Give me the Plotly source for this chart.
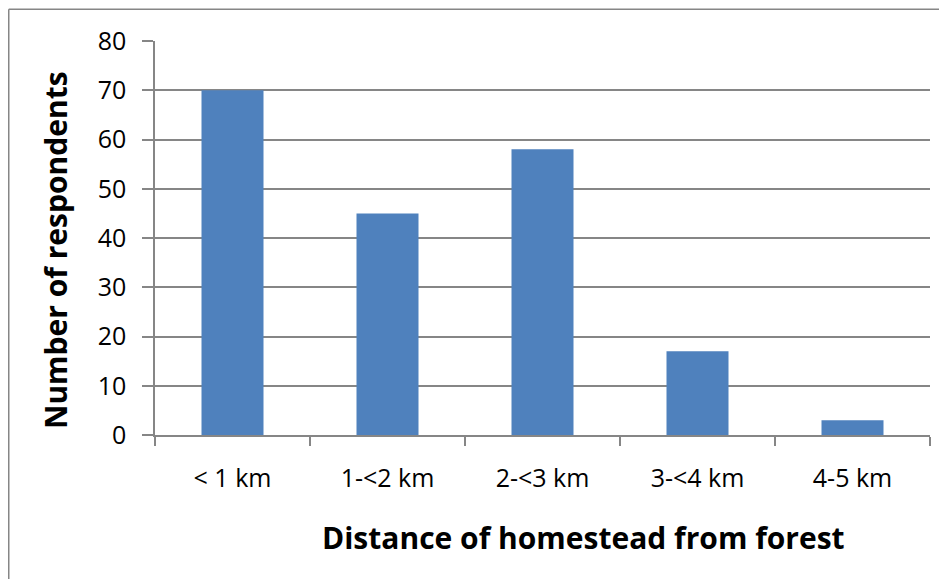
import plotly.graph_objects as go

categories = ["< 1 km", "1-<2 km", "2-<3 km", "3-<4 km", "4-5 km"]
respondents = [70, 45, 58, 17, 3]
y_ticks = [0, 10, 20, 30, 40, 50, 60, 70, 80]

x_title = "Distance of homestead from forest"
y_title = "Number of respondents"

FONT = "Open Sans"
GRAY = "#868686"

# plot area in figure pixel coordinates (page has an 8px body margin)
L, T, W, H = 147, 33, 775, 394
B = T + H


def px(x):
    return (x - L) / W


def py(y):
    return (B - y) / H


fig = go.Figure(
    go.Bar(
        x=categories,
        y=respondents,
        marker=dict(color="#4F81BD", line=dict(width=0)),
    )
)

fig.update_layout(
    width=947,
    height=579,
    margin=dict(l=L, r=947 - L - W, t=T, b=579 - B),
    paper_bgcolor="white",
    plot_bgcolor="white",
    bargap=0.6,
    showlegend=False,
    font=dict(family=FONT, color="black", size=25),
    xaxis=dict(
        type="category",
        tickson="boundaries",
        ticks="outside",
        ticklen=9,
        tickcolor=GRAY,
        tickwidth=1.5,
        showline=True,
        linecolor=GRAY,
        linewidth=1.5,
        showgrid=False,
        tickfont=dict(family=FONT, size=25, color="black"),
        ticklabelstandoff=20,
    ),
    yaxis=dict(
        range=[0, 80],
        tickvals=y_ticks,
        ticks="outside",
        ticklen=11,
        tickcolor=GRAY,
        tickwidth=1.5,
        showline=True,
        linecolor=GRAY,
        linewidth=1.5,
        showgrid=True,
        gridcolor=GRAY,
        gridwidth=1.5,
        zeroline=False,
        tickfont=dict(family=FONT, size=25, color="black"),
        ticklabelstandoff=11,
    ),
    annotations=[
        dict(
            text=f"<b>{x_title}</b>",
            xref="paper", yref="paper",
            x=px(575), y=py(529),
            xanchor="center", yanchor="middle",
            showarrow=False,
            font=dict(family=FONT, size=30, color="black"),
        ),
        dict(
            text=f"<b>{y_title}</b>",
            xref="paper", yref="paper",
            x=px(47), y=py(242),
            xanchor="center", yanchor="middle",
            textangle=-90,
            showarrow=False,
            font=dict(family=FONT, size=30, color="black"),
        ),
    ],
    shapes=[
        dict(type="line", xref="paper", yref="paper",
             x0=px(0.75), x1=px(960),
             y0=py(1.25), y1=py(1.25),
             line=dict(color=GRAY, width=1.5)),
        dict(type="line", xref="paper", yref="paper",
             x0=px(0.75), x1=px(0.75),
             y0=py(1.25), y1=py(600),
             line=dict(color=GRAY, width=1.5)),
    ],
)

fig.write_html("out.html")
